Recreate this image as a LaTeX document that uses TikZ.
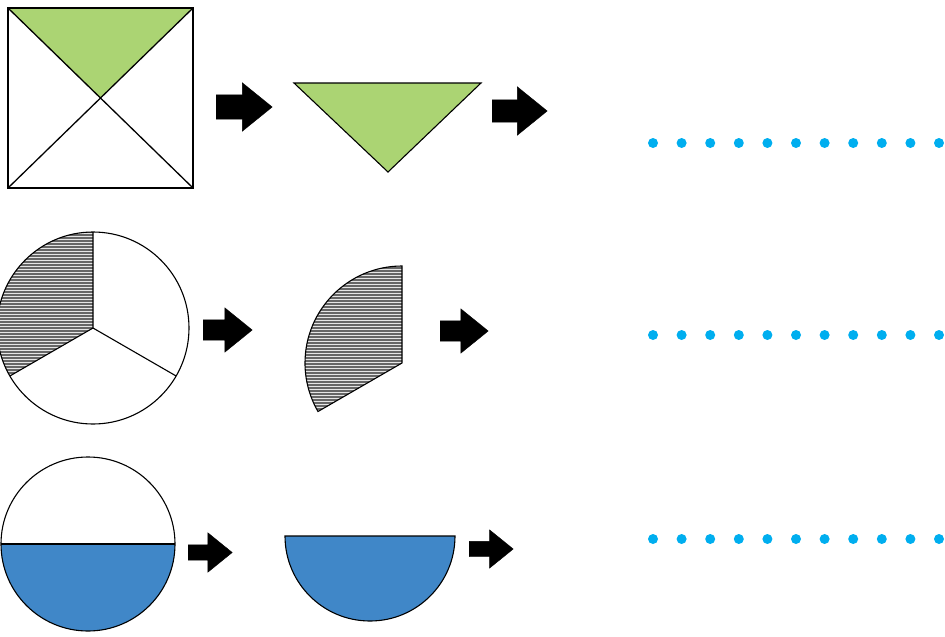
\documentclass[tikz,border=0pt]{standalone}
\usetikzlibrary{shapes.arrows}

\definecolor{leafgreen}{RGB}{171,212,115}
\definecolor{seablue}{RGB}{64,135,200}
\definecolor{dotcyan}{RGB}{0,174,239}

\tikzstyle{blockarrow} = [single arrow, draw=black, fill=black, inner xsep=0pt, anchor=tail,
single arrow tip angle=78, single arrow head extend=12pt]
\tikzstyle{outline} = [draw=black, line width=1.1pt]
\tikzstyle{hatch} = [black!60, line width=1.4pt]
\tikzstyle{dot} = [fill=dotcyan]

\begin{document}
\begin{tikzpicture}[x=1pt,y=-1pt]

\useasboundingbox (0,0) rectangle (945,637);

% Top row: square and triangle
\fill[leafgreen] (8,8) -- (193,8) -- (100,98) -- cycle;
\draw[black, line width=1.6pt] (8,8) rectangle (193,188);
\draw[black, line width=1.3pt] (8,8) -- (193,188) (193,8) -- (8,188);
\draw[outline, fill=leafgreen] (294,83) -- (481,83) -- (388,172) -- cycle;
\node[blockarrow, minimum height=56pt, inner ysep=12pt](arrowA) at (216,107) {};
\node[blockarrow, minimum height=55pt, inner ysep=11pt, single arrow head extend=13pt](arrowB) at (492,111) {};

% Middle row: circle in thirds
\begin{scope}
\clip (93,328) -- ++(-90:96) arc[start angle=-90, end angle=-210, radius=96] -- cycle;
\fill[gray!20] (0,220) rectangle (100,430);
\foreach \y in {226,229,...,430}
	\draw[hatch] (0,\y) -- (100,\y);
\end{scope}
\draw[outline] (93,328) circle (96);
\draw[outline] (93,328) -- ++(-90:96) (93,328) -- ++(30:96) (93,328) -- ++(150:96);

\begin{scope}
\clip (402,363) -- ++(-90:97) arc[start angle=-90, end angle=-210, radius=97] -- cycle;
\fill[gray!20] (300,260) rectangle (410,420);
\foreach \y in {262,265,...,420}
	\draw[hatch] (300,\y) -- (410,\y);
\end{scope}
\draw[outline] (402,363) -- ++(-90:97) arc[start angle=-90, end angle=-210, radius=97] -- cycle;
\node[blockarrow, minimum height=49pt, inner ysep=10pt](arrowC) at (203,330) {};
\node[blockarrow, minimum height=48pt, inner ysep=10pt](arrowD) at (440,331) {};

% Bottom row: circle in halves
\fill[seablue] (1,544) arc[start angle=180, end angle=0, radius=87] -- cycle;
\draw[outline] (88,544) circle (87);
\draw[outline] (1,544) -- (175,544);
\draw[outline, fill=seablue] (285,536) arc[start angle=180, end angle=0, radius=85] -- cycle;
\node[blockarrow, minimum height=44pt, inner ysep=7.5pt](arrowE) at (188,552.5) {};
\node[blockarrow, minimum height=44pt, inner ysep=7.5pt, single arrow head extend=11.5pt](arrowF) at (469,549) {};

% Dotted answer lines
\foreach \i in {0,...,10}
{
	\fill[dot] (653+28.6*\i,143) circle (5);
	\fill[dot] (653+28.6*\i,335) circle (5);
	\fill[dot] (653+28.6*\i,539) circle (5);
}

\end{tikzpicture}
\end{document}
